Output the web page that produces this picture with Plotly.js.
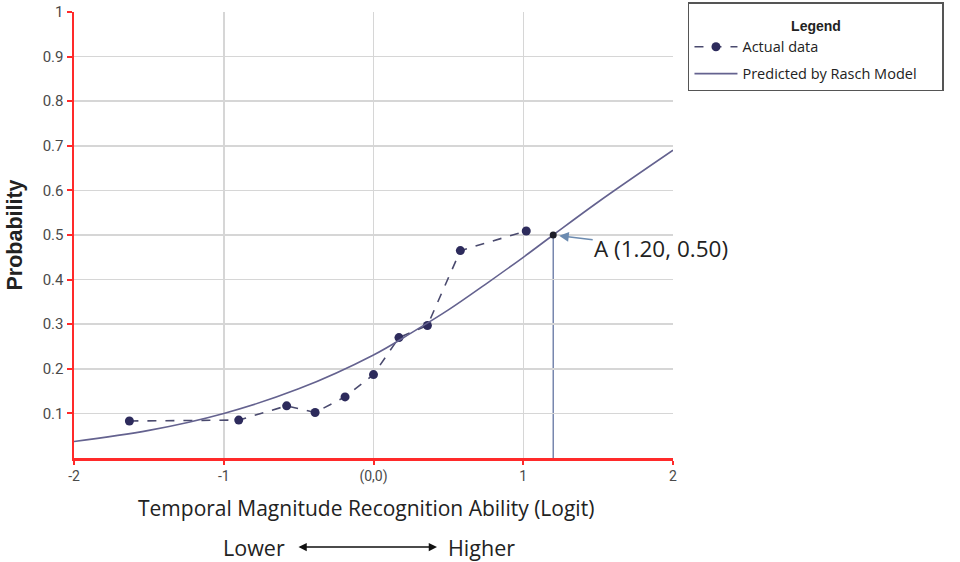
<!DOCTYPE html>
<html><head><meta charset="utf-8">
<script src="https://cdn.plot.ly/plotly-3.0.1.min.js"></script>
<style>html,body{margin:0;padding:0;background:#fff;}#chart{width:960px;height:562px;}</style>
</head><body><div id="chart"></div>
<script>
// Actual data
const actualX = [-1.63, -0.90, -0.58, -0.39, -0.19, 0.00, 0.17, 0.36, 0.58, 1.02];
const actualY = [0.083, 0.085, 0.117, 0.102, 0.137, 0.187, 0.270, 0.297, 0.465, 0.509];
// Predicted by Rasch Model
const raschX = [-2, -1.5, -1, -0.5, 0, 0.25, 0.5, 0.75, 1, 1.2, 1.5, 2];
const raschY = [0.037, 0.062, 0.100, 0.155, 0.231, 0.280, 0.332, 0.390, 0.450, 0.500, 0.574, 0.690];
// Point A
const pointA = [1.20, 0.50];
const yTickVals = [0.1, 0.2, 0.3, 0.4, 0.5, 0.6, 0.7, 0.8, 0.9, 1];
const yTickText = ["0.1", "0.2", "0.3", "0.4", "0.5", "0.6", "0.7", "0.8", "0.9", "1"];
const xTickVals = [-2, -1, 0, 1, 2];
const xTickText = ["-2", "-1", "(0,0)", "1", "2"];

const pad = "&nbsp;".repeat(17);

const traces = [
  {x: actualX, y: actualY, name: "Actual data", mode: "lines+markers", type: "scatter",
   legendgroup: "g1",
   line: {color: "#4a4a6e", width: 1.6, dash: "dash"},
   marker: {color: "#2d2b5c", size: 9, symbol: "circle"}},
  {x: raschX, y: raschY, name: "Predicted by Rasch Model", mode: "lines", type: "scatter",
   legendgroup: "g2",
   line: {color: "#64628f", width: 1.6, shape: "spline"}},
  {x: [pointA[0]], y: [pointA[1]], mode: "markers", type: "scatter", showlegend: false,
   marker: {color: "#1e1e28", size: 7}, hoverinfo: "skip"}
];

const layout = {
  width: 960, height: 562,
  margin: {l: 74, r: 287, t: 12, b: 104, autoexpand: false},
  paper_bgcolor: "#fff", plot_bgcolor: "#fff",
  font: {family: "Roboto, Arial, sans-serif", color: "#555"},
  xaxis: {range: [-2, 2], tickvals: xTickVals, ticktext: xTickText,
    showgrid: true, gridcolor: "#d6d6d6", gridwidth: 1.5, zeroline: false,
    showline: true, linecolor: "#ff2a2a", linewidth: 2.5,
    ticks: "outside", tickcolor: "#ff2a2a", ticklen: 4, tickwidth: 2,
    tickfont: {size: 14, color: "#4a4a4a"}},
  yaxis: {range: [0, 1], tickvals: yTickVals, ticktext: yTickText,
    showgrid: true, gridcolor: "#d6d6d6", gridwidth: 1.5, zeroline: false,
    showline: true, linecolor: "#ff2a2a", linewidth: 2.5,
    ticks: "outside", tickcolor: "#ff2a2a", ticklen: 5, tickwidth: 2,
    tickfont: {size: 15, color: "#4a4a4a"},
    title: {text: "<b>Probability</b>", standoff: 14,
      font: {family: "Liberation Sans, Arial, sans-serif", size: 21.5, color: "#222"}}},
  showlegend: true,
  legend: {x: 1.025, xanchor: "left", y: 1.0224, yanchor: "top",
    bgcolor: "#fff", bordercolor: "#555", borderwidth: 1.5,
    font: {family: "Open Sans, sans-serif", size: 14.5, color: "#222"},
    itemwidth: 43,
    traceorder: "grouped", tracegroupgap: 5,
    title: {text: pad + "<span style='font-size:14px'><b>Legend</b></span>" + pad, side: "top center",
      font: {family: "Liberation Sans, Arial, sans-serif", size: 21, color: "#222"}}},
  shapes: [
    {type: "line", xref: "x", yref: "y", x0: -2, x1: pointA[0], y0: pointA[1], y1: pointA[1],
     line: {color: "#56699a", width: 1.2}, layer: "below"},
    {type: "line", xref: "x", yref: "y", x0: pointA[0], x1: pointA[0], y0: 0, y1: pointA[1],
     line: {color: "#56699a", width: 1.2}, layer: "below"}
  ],
  annotations: [
    {x: pointA[0], y: pointA[1], xref: "x", yref: "y", text: "A (1.20, 0.50)",
     showarrow: true, ax: 108, ay: 13, arrowhead: 2, arrowsize: 1.2, arrowwidth: 1.6,
     arrowcolor: "#6c8bb0", standoff: 6,
     font: {family: "Open Sans, sans-serif", size: 22.5, color: "#222"}},
    {x: -0.05, y: -0.1125, xref: "x", yref: "paper", text: "Temporal Magnitude Recognition Ability (Logit)",
     showarrow: false, xanchor: "center", yanchor: "middle",
     font: {family: "Open Sans, sans-serif", size: 21, color: "#222"}},
    {x: 0.424, y: -0.1996, xref: "x", yref: "paper", text: "", showarrow: true,
     ax: -140, ay: 0, arrowhead: 2, arrowside: "end+start", arrowsize: 1.1, arrowwidth: 1.5,
     arrowcolor: "#111"},
    {x: -0.575, y: -0.1996, xref: "x", yref: "paper", text: "Lower", showarrow: false,
     xanchor: "right", yanchor: "middle",
     font: {family: "Open Sans, sans-serif", size: 21.5, color: "#222"}},
    {x: 0.485, y: -0.1996, xref: "x", yref: "paper", text: "Higher", showarrow: false,
     xanchor: "left", yanchor: "middle",
     font: {family: "Open Sans, sans-serif", size: 21.5, color: "#222"}}
  ]
};
Plotly.newPlot("chart", traces, layout, {displayModeBar: false, staticPlot: true});
</script></body></html>
